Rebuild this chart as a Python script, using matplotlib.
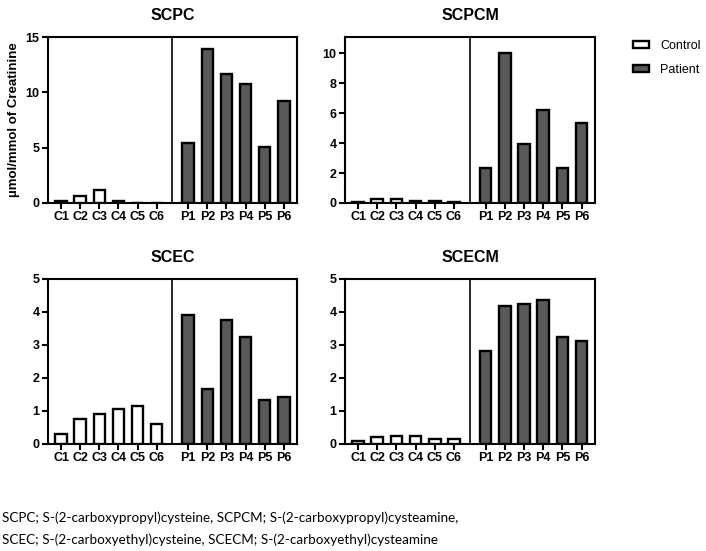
import matplotlib
matplotlib.use('Agg')

import numpy as np
import matplotlib.pyplot as plt
from matplotlib.patches import Patch

# === Data ===
control_labels = ["C1", "C2", "C3", "C4", "C5", "C6"]
patient_labels = ["P1", "P2", "P3", "P4", "P5", "P6"]

scpc_control = [0.2, 0.6, 1.2, 0.15, 0.02, 0.02]
scpc_patient = [5.4, 13.9, 11.7, 10.8, 5.1, 9.2]

scpcm_control = [0.05, 0.25, 0.28, 0.12, 0.1, 0.08]
scpcm_patient = [2.35, 10.0, 3.95, 6.2, 2.35, 5.35]

scec_control = [0.29, 0.76, 0.92, 1.06, 1.16, 0.62]
scec_patient = [3.92, 1.68, 3.75, 3.24, 1.33, 1.43]

scecm_control = [0.09, 0.2, 0.25, 0.25, 0.15, 0.15]
scecm_patient = [2.83, 4.19, 4.23, 4.36, 3.24, 3.11]

footnote = ("SCPC; S-(2-carboxypropyl)cysteine, SCPCM; S-(2-carboxypropyl)cysteamine,\n"
            "SCEC; S-(2-carboxyethyl)cysteine, SCECM; S-(2-carboxyethyl)cysteamine")

plt.rcParams['font.family'] = ['Liberation Sans', 'DejaVu Sans']

GRAY = "#595959"
x_c = np.arange(6)
x_p = np.arange(6) + 6.65
divider = 5.825

fig = plt.figure(figsize=(7.06, 5.51), dpi=100)

# axes positions in figure fractions (left, bottom, width, height)
panels = [
    ("SCPC", scpc_control, scpc_patient, 15, [0, 5, 10, 15], (0.068, 0.6316, 0.353, 0.301)),
    ("SCPCM", scpcm_control, scpcm_patient, 11.07, [0, 2, 4, 6, 8, 10], (0.4887, 0.6316, 0.354, 0.301)),
    ("SCEC", scec_control, scec_patient, 5, [0, 1, 2, 3, 4, 5], (0.068, 0.1942, 0.353, 0.2995)),
    ("SCECM", scecm_control, scecm_patient, 5, [0, 1, 2, 3, 4, 5], (0.4887, 0.1942, 0.354, 0.2995)),
]

for i, (title, ctrl, pat, ymax, yticks, pos) in enumerate(panels):
    ax = fig.add_axes(pos)
    ax.bar(x_c, ctrl, width=0.6, color="white", edgecolor="black", linewidth=1.7, zorder=3)
    ax.bar(x_p, pat, width=0.6, color=GRAY, edgecolor="black", linewidth=1.7, zorder=3)
    ax.axvline(divider, color="black", linewidth=1.2, zorder=4)
    ax.set_xlim(-0.68, 12.35)
    ax.set_ylim(0, ymax)
    ax.set_yticks(yticks)
    ax.set_xticks(list(x_c) + list(x_p))
    ax.set_xticklabels(control_labels + patient_labels)
    for s in ax.spines.values():
        s.set_linewidth(1.5)
    ax.tick_params(axis='both', direction='out', length=4, width=1.5,
                   labelsize=9, pad=2)
    for lbl in ax.get_xticklabels() + ax.get_yticklabels():
        lbl.set_fontweight('bold')
    ax.set_title(title, fontsize=11.5, fontweight='bold', pad=12)
    if i == 0:
        ax.set_ylabel("µmol/mmol of Creatinine", fontsize=9.5, fontweight='bold', labelpad=4)

# legend
handles = [Patch(facecolor="white", edgecolor="black", linewidth=1.7, label="Control"),
           Patch(facecolor=GRAY, edgecolor="black", linewidth=1.7, label="Patient")]
fig.legend(handles=handles, loc='upper left', bbox_to_anchor=(0.88, 0.948),
           frameon=False, fontsize=9, handlelength=1.3, handleheight=0.5,
           labelspacing=0.95, handletextpad=0.9)

fig.text(0.003, 0.04, footnote, fontsize=9.75, family=['Lato', 'DejaVu Sans'],
         ha='left', va='center', linespacing=1.85)

fig.savefig("out.png", dpi=100)
